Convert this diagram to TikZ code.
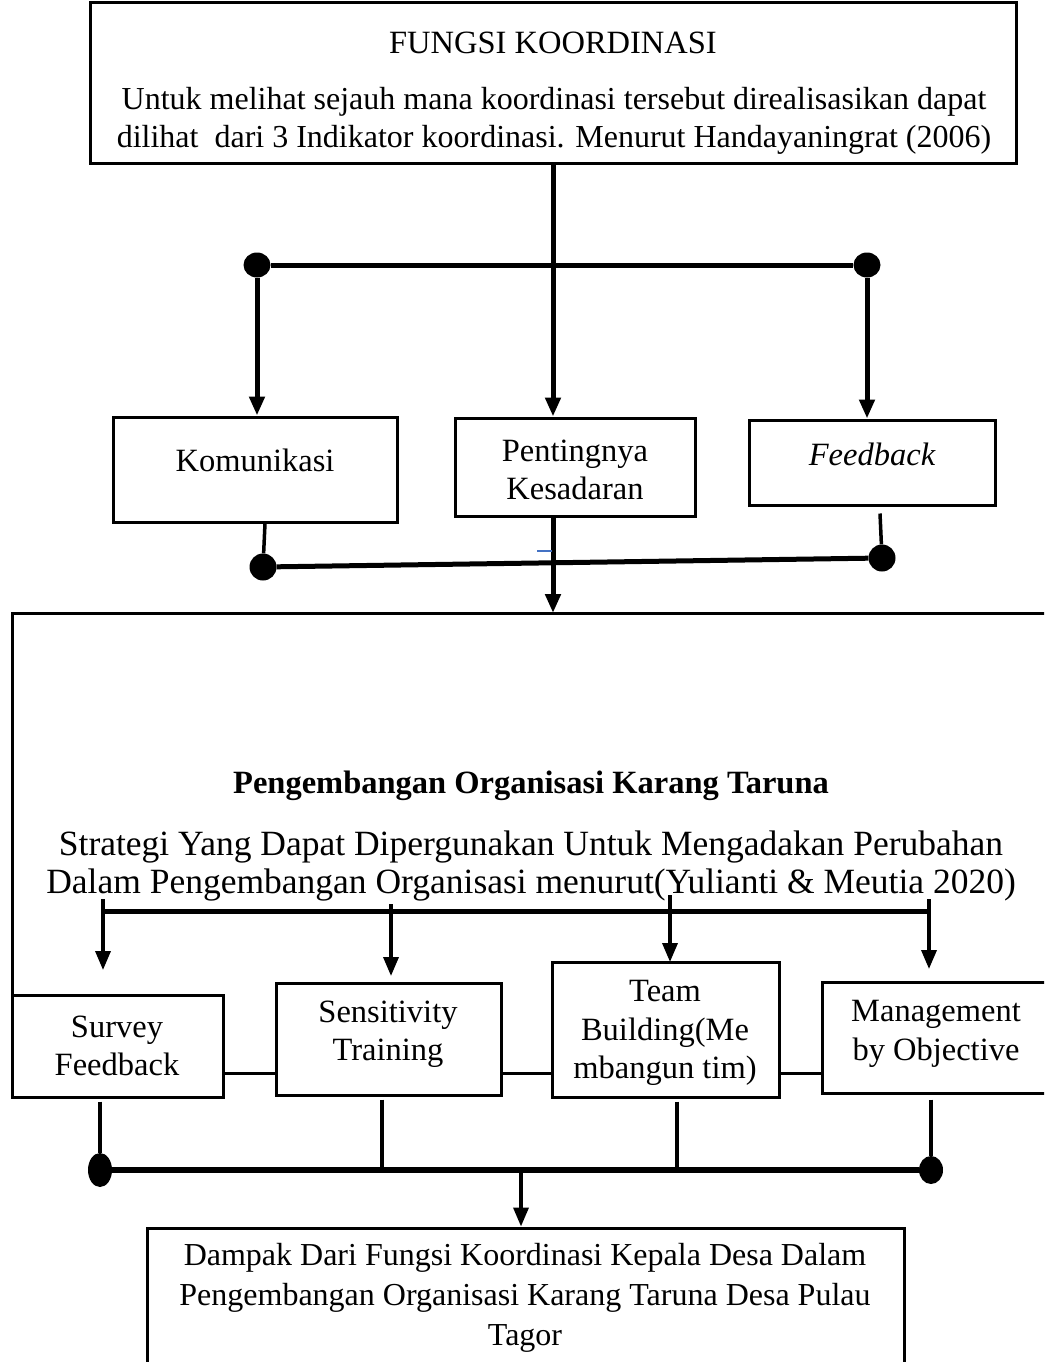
\documentclass[tikz,border=0pt]{standalone}
\usepackage{fontspec}
\setmainfont{Liberation Serif}
\usetikzlibrary{arrows.meta,shapes.geometric,calc}
\begin{document}
\begin{tikzpicture}[x=1pt,y=-1pt,
  box/.style={draw,line width=3pt,inner sep=0pt},
  txt/.style={inner sep=0pt,align=center,font=\fontsize{32.5}{38.5}\selectfont},
  thickln/.style={line width=5pt},
  midln/.style={line width=3.5pt},
  tip/.style={-{Triangle[width=15pt,length=19pt]}},
  dot/.style={ellipse,fill=black,inner sep=0pt}]
\clip (0,0) rectangle (1044,1362);
\fill[white] (0,0) rectangle (1044,1362);
% top box
\node[box,minimum width=926pt,minimum height=160pt] (top) at (553,83) {};
\node[txt] (title) at (553,43) {FUNGSI KOORDINASI};
\node[txt,font=\fontsize{32}{38}\selectfont] (toptxt) at (554,121) {Untuk melihat sejauh mana koordinasi tersebut direalisasikan dapat\\dilihat\ \ dari 3 Indikator koordinasi. Menurut Handayaningrat (2006)};
% indicator boxes
\node[box,minimum width=284pt,minimum height=105pt] (kom) at (255,469.5) {};
\node[txt] (komtxt) at (255,460) {Komunikasi};
\node[box,minimum width=240pt,minimum height=98pt] (pent) at (575,467) {};
\node[txt] (penttxt) at (575,470) {Pentingnya\\Kesadaran};
\node[box,minimum width=246pt,minimum height=85pt] (feed) at (872,462.5) {};
\node[txt] (feedtxt) at (872,454) {\itshape Feedback};
% dots
\node[dot,minimum width=27pt,minimum height=25pt] (dTL) at (257,265) {};
\node[dot,minimum width=27pt,minimum height=25pt] (dTR) at (867,265) {};
\node[dot,minimum width=27pt,minimum height=27pt] (dBL) at (263,567) {};
\node[dot,minimum width=27pt,minimum height=27pt] (dBR) at (882,558) {};
% big box
\coordinate (bigTL) at (12,613);
\draw[box] (12,996) -- (bigTL) -- (1060,613);
% top connectors
\draw[thickln,tip] (top.south) -- (top.south |- pent.north);
\draw[thickln] (dTL) -- (dTR);
\draw[thickln,tip] (dTL) -- (dTL |- kom.north);
\draw[thickln,tip] (dTR) -- (dTR |- feed.north);
\draw[midln] ($(dBL |- kom.south)+(2,0)$) -- (dBL);
\draw[midln] ($(dBR |- feed.south)+(-2,7)$) -- (dBR);
\draw[thickln] (dBL) -- (dBR);
\draw[thickln,tip] (pent.south -| top.south) -- (top.south |- bigTL);
\draw[line width=1.2pt,color={rgb,255:red,68;green,114;blue,196}] (537,551) -- (552,551);
% middle texts
\node[txt,font=\fontsize{32.5}{38.5}\selectfont\bfseries] (ptitle) at (531,786) {Pengembangan Organisasi Karang Taruna};
\node[txt,font=\fontsize{35.5}{38.5}\selectfont] (strat) at (531,866) {Strategi Yang Dapat Dipergunakan Untuk Mengadakan Perubahan\\Dalam Pengembangan Organisasi menurut(Yulianti \& Meutia 2020)};
% strategy boxes
\node[box,minimum width=211pt,minimum height=102pt] (surv) at (117.5,1046) {};
\node[txt] (survtxt) at (117,1046) {Survey\\Feedback};
\node[box,minimum width=225pt,minimum height=112pt] (sens) at (388.5,1039) {};
\node[txt] (senstxt) at (388,1034) {Sensitivity\\Training};
\node[box,minimum width=227pt,minimum height=135pt] (team) at (665.5,1029.5) {};
\node[txt] (teamtxt) at (665,1033) {Team\\Building(Me\\mbangun tim)};
\node[box,minimum width=240pt,minimum height=111pt] (mgmt) at (942,1037.5) {};
\node[txt] (mgmttxt) at (936,1034) {Management\\by Objective};
% strategy connectors
\coordinate (hL) at (101,911);
\coordinate (hR) at (930,911);
\coordinate (a1) at (103,970);
\coordinate (a2) at (391,976);
\coordinate (a3) at (670,962);
\coordinate (a4) at (929,969);
\draw[thickln] (hL) -- (hR);
\draw[midln,tip] (a1 |- 0,899) -- (a1);
\draw[midln,tip] (a2 |- 0,904) -- (a2);
\draw[midln,tip] (a3 |- 0,895) -- (a3);
\draw[midln,tip] (a4 |- 0,899) -- (a4);
\draw[line width=3pt] (surv.east |- 0,1073) -- (sens.west |- 0,1073);
\draw[line width=3pt] (sens.east |- 0,1073) -- (team.west |- 0,1073);
\draw[line width=3pt] (team.east |- 0,1073) -- (mgmt.west |- 0,1073);
% bottom dots and lines
\node[dot,minimum width=24pt,minimum height=34pt] (dL2) at (100,1170) {};
\node[dot,minimum width=24pt,minimum height=28pt] (dR2) at (931,1170) {};
\coordinate (s2) at (382,1168);
\coordinate (t2) at (677,1168);
\draw[midln] ($(dL2 |- surv.south)+(0,3)$) -- (dL2);
\draw[midln] ($(s2 |- sens.south)+(0,3)$) -- (s2);
\draw[midln] ($(t2 |- team.south)+(0,3)$) -- (t2);
\draw[midln] ($(dR2 |- mgmt.south)+(0,5)$) -- (dR2);
\draw[line width=6pt] (dL2) -- (dR2);
\coordinate (m2) at (521,1170);
% bottom box
\node[box,minimum width=757pt,minimum height=150pt] (bot) at (525.5,1303) {};
\node[txt,font=\fontsize{32}{40}\selectfont] (bottxt) at (525,1298) {Dampak Dari Fungsi Koordinasi Kepala Desa Dalam\\Pengembangan Organisasi Karang Taruna Desa Pulau\\Tagor};
\draw[midln,tip] (m2) -- (m2 |- bot.north);
\end{tikzpicture}
\end{document}
